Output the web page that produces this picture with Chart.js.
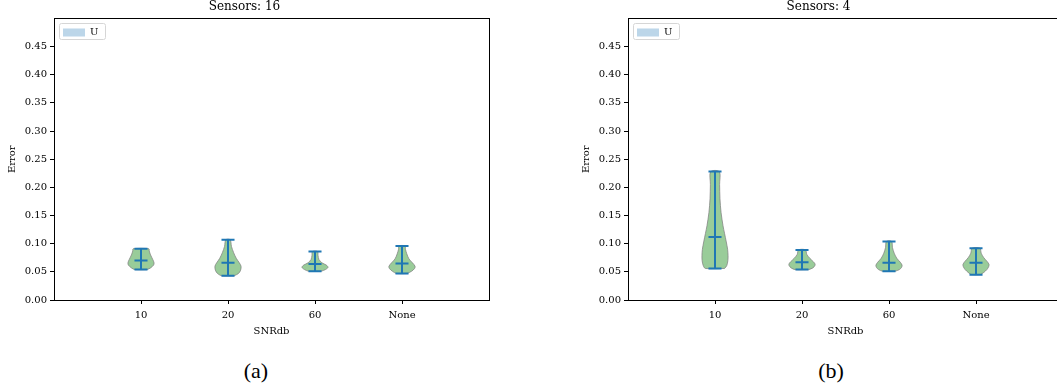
<!DOCTYPE html>
<html lang="en">
<head>
<meta charset="UTF-8">
<title>Violinos por SNR</title>
<script src="https://cdn.jsdelivr.net/npm/chart.js"></script>
<style>
  html, body { margin: 0; padding: 0; background: #fff; overflow: hidden; width: 1057px; height: 389px; }
  .painel { position: absolute; top: 0; width: 540px; height: 345px; }
  .rotulo { position: absolute; top: 358px; width: 60px; text-align: center; font-family: 'Liberation Serif', serif; font-size: 22px; color: #000; }
</style>
</head>
<body>
  <div class="painel" style="left:0"><canvas id="chart16"></canvas></div>
  <div class="painel" style="left:574px"><canvas id="chart4"></canvas></div>
  <div class="rotulo" style="left:226px">(a)</div>
  <div class="rotulo" style="left:801px">(b)</div>

<script>
  const categorias = ['10', '20', '60', 'None'];
  const posicoes = [1, 2, 3, 4];
  const marcasY = [0, 0.05, 0.10, 0.15, 0.20, 0.25, 0.30, 0.35, 0.40, 0.45];

  // Sensors: 16
  const min16 = [0.054, 0.043, 0.051, 0.047];
  const max16 = [0.091, 0.107, 0.086, 0.096];
  const media16 = [0.070, 0.066, 0.064, 0.065];
  // perfil de cada violino: niveis de erro e meia largura (em unidades do eixo x)
  const niveis16 = [
    [0.054, 0.057, 0.062, 0.066, 0.072, 0.080, 0.087, 0.091],
    [0.043, 0.047, 0.053, 0.060, 0.066, 0.074, 0.084, 0.095, 0.107],
    [0.051, 0.054, 0.058, 0.062, 0.066, 0.072, 0.079, 0.086],
    [0.047, 0.051, 0.056, 0.060, 0.066, 0.073, 0.082, 0.090, 0.096]
  ];
  const largura16 = [
    [0.07, 0.11, 0.145, 0.15, 0.135, 0.11, 0.095, 0.09],
    [0.07, 0.12, 0.145, 0.15, 0.13, 0.095, 0.065, 0.04, 0.025],
    [0.07, 0.12, 0.15, 0.13, 0.08, 0.045, 0.035, 0.03],
    [0.06, 0.11, 0.145, 0.15, 0.12, 0.08, 0.055, 0.04, 0.035]
  ];

  // Sensors: 4
  const min4 = [0.056, 0.054, 0.051, 0.045];
  const max4 = [0.228, 0.089, 0.104, 0.092];
  const media4 = [0.112, 0.067, 0.066, 0.066];
  const niveis4 = [
    [0.056, 0.061, 0.070, 0.079, 0.090, 0.103, 0.118, 0.132, 0.155, 0.180, 0.205, 0.228],
    [0.054, 0.057, 0.061, 0.064, 0.068, 0.074, 0.081, 0.089],
    [0.051, 0.054, 0.058, 0.062, 0.067, 0.074, 0.083, 0.093, 0.104],
    [0.045, 0.049, 0.054, 0.059, 0.063, 0.068, 0.075, 0.083, 0.092]
  ];
  const largura4 = [
    [0.11, 0.135, 0.148, 0.15, 0.145, 0.13, 0.11, 0.092, 0.07, 0.057, 0.053, 0.05],
    [0.08, 0.125, 0.148, 0.15, 0.13, 0.09, 0.055, 0.04],
    [0.07, 0.12, 0.145, 0.15, 0.13, 0.09, 0.06, 0.04, 0.03],
    [0.05, 0.09, 0.125, 0.145, 0.15, 0.13, 0.09, 0.06, 0.045]
  ];

  const meiaBarra = 0.075;

  Chart.defaults.font.family = "'DejaVu Serif', serif";
  Chart.defaults.font.size = 10;
  Chart.defaults.color = '#000';

  // contorno fechado do violino: sobe pelo lado direito e desce pelo esquerdo
  function contorno(pos, niveis, larguras) {
    const pts = [];
    for (let j = 0; j < niveis.length; j++) pts.push({ x: pos + larguras[j], y: niveis[j] });
    for (let j = niveis.length - 1; j >= 0; j--) pts.push({ x: pos - larguras[j], y: niveis[j] });
    pts.push(pts[0]);
    return pts;
  }

  // barras: min, max, media e linha vertical, separadas por nulos
  function linhas(mins, maxs, medias) {
    const pts = [];
    for (let i = 0; i < posicoes.length; i++) {
      const p = posicoes[i];
      pts.push({ x: p, y: mins[i] }, { x: p, y: maxs[i] }, { x: p, y: null });
      pts.push({ x: p - meiaBarra, y: maxs[i] }, { x: p + meiaBarra, y: maxs[i] }, { x: p, y: null });
      pts.push({ x: p - meiaBarra, y: mins[i] }, { x: p + meiaBarra, y: mins[i] }, { x: p, y: null });
      pts.push({ x: p - meiaBarra, y: medias[i] }, { x: p + meiaBarra, y: medias[i] }, { x: p, y: null });
    }
    return pts;
  }

  const moldura = {
    id: 'moldura',
    // a legenda em 'chartArea' fica com top = 0; desce ela pro topo da area
    afterLayout(chart) {
      const lg = chart.legend;
      const dy = chart.chartArea.top - lg.top;
      lg.top += dy;
      lg.bottom += dy;
    },
    afterDraw(chart) {
      const ctx = chart.ctx;
      const a = chart.chartArea;
      ctx.save();
      ctx.strokeStyle = '#000';
      ctx.lineWidth = 1;
      ctx.strokeRect(Math.round(a.left) + 0.5, Math.round(a.top) + 0.5, Math.round(a.right - a.left), Math.round(a.bottom - a.top));
      const hb = chart.legend.legendHitBoxes[0];
      if (hb) {
        ctx.strokeStyle = '#d6d6d6';
        ctx.beginPath();
        ctx.roundRect(Math.round(hb.left - 4) + 0.5, Math.round(hb.top - 4) + 0.5, Math.round(hb.width + 11), Math.round(hb.height + 6), 2);
        ctx.stroke();
      }
      ctx.restore();
    }
  };

  function criarGrafico(id, titulo, mins, maxs, medias, niveis, larguras) {
    const datasets = [
      { label: 'U', data: [], backgroundColor: '#bcd6e9', borderWidth: 0 },
      {
        label: 'barras', data: linhas(mins, maxs, medias), borderColor: '#1f77b4', borderWidth: 2,
        pointRadius: 0, tension: 0, spanGaps: false, fill: false, order: 0
      }
    ];
    for (let i = 0; i < posicoes.length; i++) {
      datasets.push({
        label: 'violino ' + categorias[i], data: contorno(posicoes[i], niveis[i], larguras[i]),
        backgroundColor: '#99cc99', borderColor: 'rgba(128,128,128,0.75)', borderWidth: 1,
        pointRadius: 0, tension: 0.3, fill: 'shape', order: 1
      });
    }

    return new Chart(document.getElementById(id), {
      type: 'line',
      data: { datasets: datasets },
      options: {
        responsive: true,
        maintainAspectRatio: false,
        animation: false,
        events: [],
        layout: { padding: { left: 0, right: 51, top: 0, bottom: 0 } },
        plugins: {
          title: {
            display: true, text: titulo, color: '#000',
            font: { size: 12, weight: 'normal' }, padding: { top: 0, bottom: 4 }
          },
          legend: {
            position: 'chartArea', align: 'start',
            labels: {
              filter: (item) => item.text === 'U',
              boxWidth: 22, boxHeight: 8, padding: 9, font: { size: 10 }
            }
          },
          tooltip: { enabled: false }
        },
        scales: {
          x: {
            type: 'linear', min: 0, max: 5,
            afterBuildTicks: (s) => { s.ticks = posicoes.map(v => ({ value: v })); },
            afterFit: (s) => { s.height = 45; },
            ticks: { callback: (v) => categorias[posicoes.indexOf(v)], padding: 5, maxRotation: 0, autoSkip: false },
            grid: { drawOnChartArea: false, tickLength: 4, color: '#000' },
            border: { color: '#000' },
            title: { display: true, text: 'SNRdb', padding: { top: 0, bottom: 8 } }
          },
          y: {
            min: 0, max: 0.5,
            afterBuildTicks: (s) => { s.ticks = marcasY.map(v => ({ value: v })); },
            afterFit: (s) => { s.width = 54; },
            ticks: { callback: (v) => v.toFixed(2), padding: 3 },
            grid: { drawOnChartArea: false, tickLength: 4, color: '#000' },
            border: { color: '#000' },
            title: { display: true, text: 'Error', padding: { top: 6, bottom: 0 } }
          }
        }
      },
      plugins: [moldura]
    });
  }

  criarGrafico('chart16', 'Sensors: 16', min16, max16, media16, niveis16, largura16);
  criarGrafico('chart4', 'Sensors: 4', min4, max4, media4, niveis4, largura4);
</script>
</body>
</html>
